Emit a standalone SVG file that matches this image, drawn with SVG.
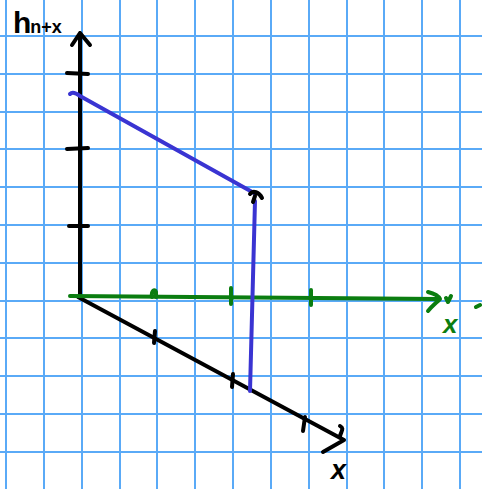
<svg xmlns="http://www.w3.org/2000/svg" width="482" height="489" viewBox="0 0 482 489">
<defs>
<style>
.grid line{stroke:#5aaaf7;stroke-width:2}
.ax{fill:none;stroke:#000;stroke-width:4;stroke-linecap:round;stroke-linejoin:round}
.gr{fill:none;stroke:#0b7d10;stroke-width:4;stroke-linecap:round;stroke-linejoin:round}
.bl{fill:none;stroke:#3a34d2;stroke-width:4;stroke-linecap:round;stroke-linejoin:round}
.lbl{font-family:"Liberation Sans",Arial,sans-serif;font-style:italic;font-weight:bold}
.hl{font-family:"Liberation Sans",Arial,sans-serif;font-weight:bold}
</style>
</defs>
<rect width="482" height="489" fill="#fff"/>
<g id="grid" class="grid">
<line x1="6" y1="0" x2="6" y2="489"/><line x1="44" y1="0" x2="44" y2="489"/><line x1="82" y1="0" x2="82" y2="489"/><line x1="120" y1="0" x2="120" y2="489"/><line x1="157" y1="0" x2="157" y2="489"/><line x1="195" y1="0" x2="195" y2="489"/><line x1="233" y1="0" x2="233" y2="489"/><line x1="271" y1="0" x2="271" y2="489"/><line x1="309" y1="0" x2="309" y2="489"/><line x1="347" y1="0" x2="347" y2="489"/><line x1="384" y1="0" x2="384" y2="489"/><line x1="422" y1="0" x2="422" y2="489"/><line x1="460" y1="0" x2="460" y2="489"/>
<line x1="0" y1="36" x2="482" y2="36"/><line x1="0" y1="74" x2="482" y2="74"/><line x1="0" y1="112" x2="482" y2="112"/><line x1="0" y1="149" x2="482" y2="149"/><line x1="0" y1="187" x2="482" y2="187"/><line x1="0" y1="225" x2="482" y2="225"/><line x1="0" y1="263" x2="482" y2="263"/><line x1="0" y1="301" x2="482" y2="301"/><line x1="0" y1="338" x2="482" y2="338"/><line x1="0" y1="376" x2="482" y2="376"/><line x1="0" y1="414" x2="482" y2="414"/><line x1="0" y1="452" x2="482" y2="452"/>
</g>
<g id="connectors">
<g id="h-axis">
<path class="ax" d="M80,297 L80,33 M72,45 L80,33 L90,45"/>
<path class="ax" d="M67,73 L88,74 M67,149 L88,148 M69,226 L88,226"/>
</g>
<g id="x-axis">
<path class="ax" d="M78,297 L344,440 M323,452 L344,440 M340,436 C342,430 344,428 340,426"/>
<path class="ax" d="M155,331 L154,343 M233,374 L232,387 M305,417 L303,431"/>
</g>
<g id="xprime-axis">
<path class="gr" d="M70,296 L438,299 M428,292 C436,294 439,297 440,299 C436,303 432,306 428,311"/>
<path class="gr" d="M152,297 C151,291 155,288 156,292 L156,297 M231,288 L231,304 M311,290 L311,305"/>
<path class="gr" d="M446,298 L448,302 L451,296"/>
</g>
<g id="graph">
<path class="bl" d="M70,94 C72,92 76,93 80,96 L254,193 M255,201 L250,391"/>
<path class="ax" stroke-width="3" d="M250,194 C253,190 259,192 262,198 M253,202 L255,196"/>
</g>
</g>
<g id="labels">
<text class="hl" x="13" y="33" font-size="30">h<tspan font-size="18" dx="-1">n+x</tspan></text>
<text class="lbl" x="443" y="333" font-size="26" fill="#0b7d10">x</text>
<path class="gr" d="M476,307 L480,305"/>
<text class="lbl" x="331" y="479" font-size="27" fill="#000">x</text>
</g>
</svg>
